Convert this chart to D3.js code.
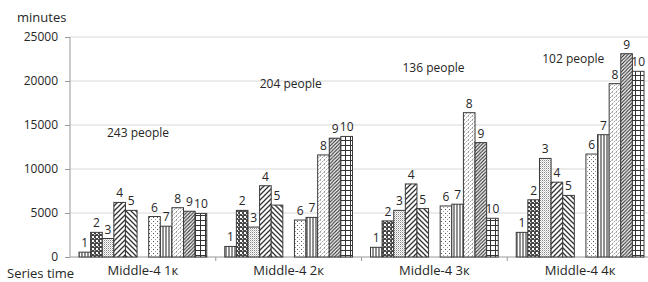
<!DOCTYPE html>
<html>
<head>
<meta charset="utf-8">
<script src="https://cdn.jsdelivr.net/npm/d3@7"></script>
<style>
  body { margin: 0; background: #fff; }
  svg text { font-family: "Open Sans", "Noto Sans", sans-serif; fill: #262626; }
</style>
</head>
<body>
<div id="chart"></div>
<script>
"use strict";

/* ── Data ── */
const groups  = ["Middle-4 1к", "Middle-4 2к", "Middle-4 3к", "Middle-4 4к"];
const series  = ["1", "2", "3", "4", "5", "6", "7", "8", "9", "10"];
const slots   = ["1", "2", "3", "4", "5", "gap", "6", "7", "8", "9", "10"];
const people  = ["243 people", "204 people", "136 people", "102 people"];
const values1 = [550, 2800, 2100, 6200, 5300, 4600, 3500, 5600, 5200, 4950];
const values2 = [1200, 5300, 3400, 8100, 5900, 4200, 4500, 11600, 13500, 13700];
const values3 = [1100, 4100, 5300, 8300, 5500, 5800, 6000, 16400, 13000, 4400];
const values4 = [2800, 6500, 11200, 8500, 7000, 11700, 13900, 19700, 23100, 21100];
const yTicks  = [0, 5000, 10000, 15000, 20000, 25000];

const allValues = [values1, values2, values3, values4];

/* ── Dimensions ── */
const W = 648, H = 282;
const plotL = 70, plotR = 653, plotT = 37, plotB = 257;

const svg = d3.select("#chart").append("svg")
  .attr("width", W).attr("height", H);

/* ── Hatch patterns ── */
const defs = svg.append("defs");
const ink = "#333";

function pat(id, size, draw) {
  const p = defs.append("pattern")
    .attr("id", id).attr("patternUnits", "userSpaceOnUse")
    .attr("width", size).attr("height", size);
  p.append("rect").attr("width", size).attr("height", size).attr("fill", "#fff");
  draw(p, size);
}

// 1 & 7: vertical stripes
["p1", "p7"].forEach(id => pat(id, 3, (p, s) => {
  p.append("line").attr("x1", 1).attr("x2", 1).attr("y1", 0).attr("y2", s)
    .attr("stroke", ink).attr("stroke-width", 1.1);
}));
// 2: dark checker with white holes
pat("p2", 4, p => {
  p.append("rect").attr("width", 4).attr("height", 4).attr("fill", "#444");
  p.append("rect").attr("x", 0).attr("y", 0).attr("width", 2).attr("height", 2).attr("fill", "#fff");
  p.append("rect").attr("x", 2).attr("y", 2).attr("width", 1.2).attr("height", 1.2).attr("fill", "#ddd");
});
// 3: fine stipple
pat("p3", 2, p => {
  p.append("rect").attr("width", 1).attr("height", 1).attr("fill", "#888");
  p.append("rect").attr("x", 1).attr("y", 1).attr("width", 1).attr("height", 1).attr("fill", "#ccc");
});
// 4: wide "/" stripes
pat("p4", 5, (p, s) => {
  p.append("path").attr("d", `M0,${s} L${s},0 M-1,1 L1,-1 M${s - 1},${s + 1} L${s + 1},${s - 1}`)
    .attr("stroke", ink).attr("stroke-width", 1.3);
});
// 5: wide "\" stripes
pat("p5", 5, (p, s) => {
  p.append("path").attr("d", `M0,0 L${s},${s} M${s - 1},-1 L${s + 1},1 M-1,${s - 1} L1,${s + 1}`)
    .attr("stroke", ink).attr("stroke-width", 1.3);
});
// 6: sparse dots
pat("p6", 4, p => {
  p.append("rect").attr("x", 1).attr("y", 1).attr("width", 1).attr("height", 1).attr("fill", "#555");
  p.append("rect").attr("x", 3).attr("y", 3).attr("width", 1).attr("height", 1).attr("fill", "#999");
});
// 8: light "/" dashes
pat("p8", 4, (p, s) => {
  p.append("path").attr("d", `M0,${s} L${s},0`)
    .attr("stroke", "#888").attr("stroke-width", 0.9).attr("stroke-dasharray", "2,1");
  p.append("rect").attr("x", 0).attr("y", 0).attr("width", 1).attr("height", 1).attr("fill", "#bbb");
});
// 9: dense dark "/" stripes
pat("p9", 3.5, (p, s) => {
  p.append("path").attr("d", `M0,${s} L${s},0 M-1,1 L1,-1 M${s - 1},${s + 1} L${s + 1},${s - 1}`)
    .attr("stroke", ink).attr("stroke-width", 1.1);
});
// 10: grid
pat("p10", 5, (p, s) => {
  p.append("path").attr("d", `M0,0.5 H${s} M0.5,0 V${s}`)
    .attr("stroke", ink).attr("stroke-width", 1);
});

/* ── Scales ── */
const x0 = d3.scaleBand().domain(groups).range([plotL, plotR]);
const x1 = d3.scaleBand().domain(slots).range([9, x0.bandwidth() - 9]);
const y  = d3.scaleLinear().domain([0, 25000]).range([plotB, plotT]);

/* ── Gridlines ── */
svg.append("g")
  .selectAll("line")
  .data(yTicks.slice(1))
  .join("line")
  .attr("x1", plotL).attr("x2", W)
  .attr("y1", d => y(d)).attr("y2", d => y(d))
  .attr("stroke", "#d9d9d9").attr("stroke-width", 1);

/* ── Y axis ── */
svg.append("g")
  .attr("transform", `translate(${plotL},0)`)
  .call(d3.axisLeft(y).tickValues(yTicks).tickFormat(d3.format("d")).tickSize(5).tickPadding(7))
  .call(g => {
    g.select(".domain").attr("stroke", "#999").attr("d", `M0,${plotT}V${plotB}`);
    g.selectAll(".tick line").attr("stroke", "#999");
    g.selectAll(".tick text").attr("font-size", "12px").attr("fill", "#262626")
      .style("font-family", '"Open Sans", sans-serif');
  });

/* ── X axis ── */
svg.append("g")
  .attr("transform", `translate(0,${plotB})`)
  .call(d3.axisBottom(x0).tickSize(0).tickPadding(9))
  .call(g => {
    g.select(".domain").attr("stroke", "#999").attr("d", `M${plotL},0H${W}`);
    g.selectAll(".tick text").attr("font-size", "13px").attr("fill", "#262626")
      .style("font-family", '"Open Sans", sans-serif');
  });

// category boundary ticks
svg.append("g")
  .selectAll("line")
  .data(groups.slice(1))
  .join("line")
  .attr("x1", d => x0(d)).attr("x2", d => x0(d))
  .attr("y1", plotB).attr("y2", plotB + 4)
  .attr("stroke", "#999");

/* ── Axis titles ── */
svg.append("text")
  .attr("x", 17).attr("y", 22)
  .attr("font-size", "13px")
  .text("minutes");

svg.append("text")
  .attr("x", 7).attr("y", 278)
  .attr("font-size", "13px")
  .text("Series time");

/* ── Bars ── */
const cells = [];
groups.forEach((g, gi) => {
  series.forEach((s, si) => {
    cells.push({ group: g, gi, s, v: allValues[gi][si] });
  });
});

const barG = svg.append("g");

barG.selectAll("rect")
  .data(cells)
  .join("rect")
  .attr("x", d => x0(d.group) + x1(d.s))
  .attr("y", d => y(d.v))
  .attr("width", x1.bandwidth())
  .attr("height", d => y(0) - y(d.v))
  .attr("fill", d => `url(#p${d.s})`)
  .attr("stroke", "#3a3a3a")
  .attr("stroke-width", 1);

barG.selectAll("text")
  .data(cells)
  .join("text")
  .attr("x", d => x0(d.group) + x1(d.s) + x1.bandwidth() / 2)
  .attr("y", d => y(d.v) - 5)
  .attr("text-anchor", "middle")
  .attr("font-size", "12px")
  .text(d => d.s);

/* ── People annotations ── */
const peopleY = [137, 88, 72, 63];
svg.append("g")
  .selectAll("text")
  .data(people)
  .join("text")
  .attr("x", (d, i) => x0(groups[i]) + [68, 75, 72, 66][i])
  .attr("y", (d, i) => peopleY[i])
  .attr("text-anchor", "middle")
  .attr("font-size", "12px")
  .text(d => d);
</script>
</body>
</html>
